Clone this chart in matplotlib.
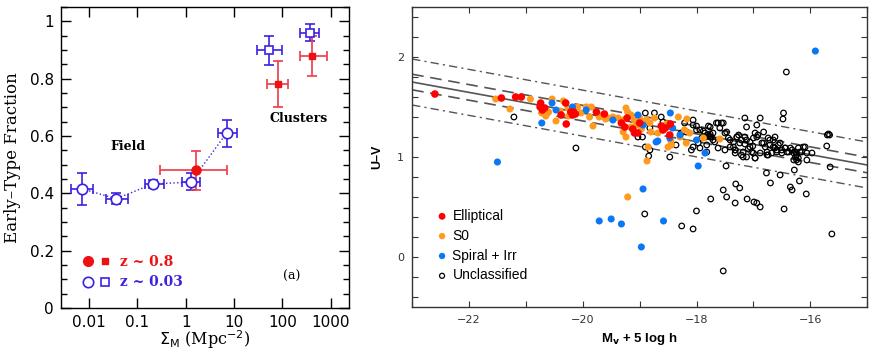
import matplotlib
matplotlib.use("Agg")
import matplotlib.pyplot as plt
from matplotlib.ticker import MultipleLocator, FixedLocator, NullFormatter
from matplotlib.legend_handler import HandlerTuple
from matplotlib.lines import Line2D

# ---- panel (a): early-type fraction vs surface density ----
field_x = [0.0071, 0.036, 0.21, 1.27, 7.0]
field_y = [0.416, 0.381, 0.433, 0.439, 0.61]
field_xlo = [0.0042, 0.022, 0.145, 0.83, 4.7]
field_xhi = [0.0117, 0.063, 0.35, 2.0, 11.5]
field_ylo = [0.36, 0.362, 0.418, 0.412, 0.561]
field_yhi = [0.47, 0.40, 0.447, 0.47, 0.656]

clus_x = [54, 380]
clus_y = [0.90, 0.96]
clus_xlo = [29.5, 237]
clus_xhi = [98, 575]
clus_ylo = [0.848, 0.93]
clus_yhi = [0.95, 0.99]

hz_field_x = [1.6]
hz_field_y = [0.48]
hz_field_xlo = [0.29]
hz_field_xhi = [7.1]
hz_field_ylo = [0.41]
hz_field_yhi = [0.549]

hz_clus_x = [80, 420]
hz_clus_y = [0.78, 0.88]
hz_clus_xlo = [48, 237]
hz_clus_xhi = [129, 830]
hz_clus_ylo = [0.70, 0.81]
hz_clus_yhi = [0.86, 0.95]

# ---- panel (b): colour-magnitude diagram ----
ell_x = [-22.6, -21.43, -21.18, -21.08, -20.74, -20.75, -20.71, -20.67, -20.3, -20.29,
         -20.38, -20.21, -20.18, -20.13, -19.76, -19.62, -19.32, -19.26, -19.22, -19.12,
         -19.03, -19.0, -18.62, -18.59, -18.55, -18.47, -18.46, -19.09, -20.16]
ell_y = [1.63, 1.59, 1.60, 1.60, 1.54, 1.50, 1.47, 1.49, 1.54, 1.33,
         1.42, 1.45, 1.42, 1.43, 1.45, 1.43, 1.34, 1.30, 1.39, 1.28,
         1.24, 1.34, 1.31, 1.27, 1.29, 1.22, 1.33, 1.24, 1.45]

s0_x = [-21.53, -21.28, -20.92, -20.72, -20.54, -20.47, -20.34, -20.26, -20.25, -20.09,
        -20.03, -19.94, -19.85, -19.88, -19.82, -19.71, -19.65, -19.56, -19.47, -19.38,
        -19.29, -19.24, -19.21, -19.29, -19.24, -19.15, -19.09, -19.06, -19.0, -18.94,
        -18.88, -18.82, -18.74, -18.85, -18.87, -18.68, -18.53, -18.5, -18.44, -18.32,
        -18.29, -18.21, -18.17, -18.12, -18.18, -17.88, -17.59, -19.21, -20.6, -19.6,
        -19.15, -18.97, -18.8, -18.45, -20.4, -20.65]
s0_y = [1.58, 1.48, 1.58, 1.44, 1.58, 1.36, 1.56, 1.49, 1.41, 1.50,
        1.44, 1.50, 1.50, 1.40, 1.31, 1.40, 1.42, 1.39, 1.40, 1.39,
        1.37, 1.49, 1.45, 1.25, 1.20, 1.42, 1.37, 1.32, 1.39, 1.35,
        1.37, 1.34, 1.39, 1.10, 0.96, 1.24, 1.33, 1.10, 1.12, 1.40,
        1.20, 1.27, 1.38, 1.24, 1.14, 1.19, 1.18, 0.60, 1.45, 1.38,
        1.30, 1.28, 1.25, 1.16, 1.46, 1.41]

sp_x = [-20.72, -21.5, -20.54, -20.47, -20.18, -19.94, -19.47, -19.03, -18.94, -18.71,
        -18.46, -18.42, -18.29, -18.0, -17.85, -17.97, -18.94, -19.71, -19.5, -19.32,
        -18.58, -18.97, -15.91, -18.68, -18.47]
sp_y = [1.34, 0.95, 1.54, 1.47, 1.50, 1.47, 1.37, 1.42, 1.32, 1.15,
        1.44, 1.29, 1.22, 1.17, 1.04, 0.91, 0.68, 0.36, 0.38, 0.33,
        0.36, 0.10, 2.06, 1.16, 1.19]

unc_x = [-21.21, -20.12, -18.9, -18.95, -18.84, -18.9, -18.82, -18.74, -18.62, -18.47,
         -18.36, -18.27, -18.06, -18.0, -18.06, -17.94, -17.82, -17.88, -17.76, -17.76,
         -17.71, -17.68, -17.62, -17.53, -17.47, -17.5, -17.48, -17.41, -17.35, -17.32,
         -17.29, -17.24, -17.18, -17.15, -17.12, -17.12, -17.06, -17.18, -17.0, -16.97,
         -16.94, -16.94, -16.88, -16.82, -16.82, -16.76, -16.74, -16.71, -16.65, -16.62,
         -16.59, -16.53, -16.5, -16.47, -16.48, -16.44, -16.41, -16.35, -16.29, -16.26,
         -16.24, -16.18, -16.12, -16.21, -15.97, -16.06, -15.71, -15.65, -15.70, -15.68,
         -15.66, -16.28, -16.19, -16.07, -16.35, -16.32, -16.46, -16.53, -16.7, -16.77,
         -16.42, -15.62, -17.53, -17.53, -17.47, -17.32, -17.31, -17.24, -17.11, -16.99,
         -16.94, -16.88, -17.75, -18.0, -18.06, -18.26, -18.91,
         -17.26, -17.21, -17.15, -17.06, -17.0, -16.97, -16.92, -16.85, -16.79, -16.74,
         -16.71, -16.65, -16.62, -16.56, -16.5, -16.44, -16.38, -16.32, -16.26, -16.24,
         -16.21, -16.15, -16.09, -16.06, -16.29, -16.21, -17.32, -17.21, -17.12, -17.03,
         -16.97, -16.88, -16.76, -16.68, -16.59, -17.15, -17.09, -17.01,
         -18.59, -19.03, -18.82, -18.21, -18.18, -18.06, -18.0, -17.94, -17.91, -17.85,
         -17.79, -17.74, -17.71, -17.65, -17.59, -17.56, -17.5, -17.44, -17.41, -17.35,
         -17.29, -17.32, -17.82, -17.62, -17.97, -18.09, -17.80, -17.78, -17.84, -17.76]
unc_y = [1.40, 1.09, 1.44, 1.20, 1.01, 1.10, 1.29, 1.44, 1.40, 1.00,
         1.12, 1.24, 1.32, 1.27, 1.10, 1.09, 1.12, 1.26, 1.30, 1.20,
         1.24, 1.15, 1.34, 1.34, 1.25, 1.07, 0.91, 1.17, 1.10, 1.04,
         1.20, 1.14, 1.05, 1.39, 1.30, 1.17, 1.10, 1.00, 1.04, 0.99,
         1.20, 1.32, 1.39, 1.25, 1.14, 1.05, 1.02, 1.17, 1.10, 1.20,
         1.07, 1.14, 1.04, 1.44, 1.38, 1.09, 1.05, 1.09, 1.04, 1.00,
         0.97, 1.05, 1.10, 1.09, 1.04, 0.97, 1.11, 0.90, 1.22, 1.23,
         1.22, 0.87, 0.76, 0.63, 0.70, 0.67, 0.48, 0.82, 0.74, 0.84,
         1.85, 0.23, -0.14, 0.67, 0.60, 0.54, 0.73, 0.69, 0.58, 0.55,
         0.54, 0.50, 0.58, 0.46, 0.28, 0.31, 0.43,
         1.22, 1.17, 1.20, 1.15, 1.19, 1.24, 1.22, 1.14, 1.10, 1.19,
         1.12, 1.17, 1.09, 1.12, 1.07, 1.09, 1.05, 1.07, 1.05, 1.02,
         0.99, 1.05, 1.10, 1.04, 0.97, 0.95, 1.07, 1.02, 1.00, 1.05,
         0.99, 1.04, 1.02, 1.04, 1.05, 1.13, 1.08, 1.11,
         1.35, 1.20, 1.07, 1.34, 1.25, 1.37, 1.31, 1.27, 1.19, 1.24,
         1.31, 1.20, 1.17, 1.34, 1.29, 1.34, 1.24, 1.19, 1.10, 1.15,
         1.20, 1.07, 1.05, 1.09, 1.14, 1.07, 1.22, 1.21, 1.20, 1.23]

# colour-magnitude relation and its scatter envelopes
cmr_x = [-23, -15]
cmr_y = [1.75, 0.92]
cmr_dash = 0.078
cmr_dashdot = 0.23

RED = '#ee1111'
RED_ERR = '#ee3a4a'
BLUE = '#3a22e0'
serif = 'DejaVu Serif'

fig = plt.figure(figsize=(8.75, 3.52), dpi=100)
ax1 = fig.add_axes([0.0697, 0.125, 0.329, 0.855])
ax2 = fig.add_axes([0.471, 0.128, 0.52, 0.852])


def asym(c, lo, hi):
    return [[a - b for a, b in zip(c, lo)], [b - a for a, b in zip(c, hi)]]


# panel (a)
ax1.plot(field_x, field_y, ':', color=BLUE, lw=1.0, zorder=2)
eb = dict(capsize=3.5, elinewidth=1.2, capthick=1.2, ls='none', zorder=3)
ax1.errorbar(field_x, field_y, xerr=asym(field_x, field_xlo, field_xhi),
             yerr=asym(field_y, field_ylo, field_yhi), fmt='o', ms=7.5,
             mfc='white', mec=BLUE, mew=1.2, ecolor=BLUE, **eb)
ax1.errorbar(clus_x, clus_y, xerr=asym(clus_x, clus_xlo, clus_xhi),
             yerr=asym(clus_y, clus_ylo, clus_yhi), fmt='s', ms=5.5,
             mfc='white', mec=BLUE, mew=1.2, ecolor=BLUE, **eb)
ax1.errorbar(hz_field_x, hz_field_y, xerr=asym(hz_field_x, hz_field_xlo, hz_field_xhi),
             yerr=asym(hz_field_y, hz_field_ylo, hz_field_yhi), fmt='o', ms=6.5,
             mfc=RED, mec=RED, ecolor=RED_ERR, **eb)
ax1.errorbar(hz_clus_x, hz_clus_y, xerr=asym(hz_clus_x, hz_clus_xlo, hz_clus_xhi),
             yerr=asym(hz_clus_y, hz_clus_ylo, hz_clus_yhi), fmt='s', ms=5,
             mfc=RED, mec=RED, ecolor=RED_ERR, **eb)

ax1.set_xscale('log')
ax1.set_xlim(0.0026, 2400)
ax1.set_ylim(0, 1.05)
ax1.xaxis.set_major_locator(FixedLocator([0.01, 0.1, 1, 10, 100, 1000]))
ax1.set_xticklabels(['0.01', '0.1', '1', '10', '100', '1000'])
ax1.xaxis.set_minor_locator(FixedLocator([]))
ax1.xaxis.set_minor_formatter(NullFormatter())
ax1.set_yticks([0, 0.2, 0.4, 0.6, 0.8, 1.0])
ax1.set_yticklabels(['0', '0.2', '0.4', '0.6', '0.8', '1'])
ax1.yaxis.set_minor_locator(MultipleLocator(0.05))
ax1.tick_params(which='both', direction='in', top=True, right=True, width=1)
ax1.tick_params(which='major', length=7, labelsize=11, pad=5)
ax1.tick_params(which='minor', length=4)
for sp in ax1.spines.values():
    sp.set_linewidth(1.0)
ax1.set_ylabel('Early\u2013Type Fraction', family=serif, fontsize=12, labelpad=6)
ax1.set_xlabel(r'$\Sigma_{\rm M}$ (Mpc$^{-2}$)', family=serif, fontsize=11.5,
               labelpad=-1)

ax1.text(0.065, 0.565, 'Field', family=serif, fontsize=9, ha='center', va='center',
         fontweight='bold')
ax1.text(215, 0.66, 'Clusters', family=serif, fontsize=9, ha='center', va='center',
         fontweight='bold')
ax1.text(160, 0.11, '(a)', family=serif, fontsize=9, ha='center', va='center')

h_r = (Line2D([], [], ls='none', marker='o', ms=7, color=RED),
       Line2D([], [], ls='none', marker='s', ms=5, color=RED))
h_b = (Line2D([], [], ls='none', marker='o', ms=7.5, mfc='white', mec=BLUE, mew=1.2),
       Line2D([], [], ls='none', marker='s', ms=5.5, mfc='white', mec=BLUE, mew=1.2))
ax1.legend([h_r, h_b], ['z ~ 0.8', 'z ~ 0.03'],
           handler_map={tuple: HandlerTuple(ndivide=None, pad=0.3)},
           loc='lower left', bbox_to_anchor=(0.03, 0.02), frameon=False,
           labelcolor=[RED, BLUE], handlelength=2.1, handletextpad=0.6,
           labelspacing=0.5, prop={'family': serif, 'size': 10, 'weight': 'bold'})

# panel (b)
GRAY = '#555555'
ax2.plot(cmr_x, cmr_y, '-', color=GRAY, lw=1.2, zorder=1)
for s in (1, -1):
    ax2.plot(cmr_x, [v + s * cmr_dash for v in cmr_y], '--', color=GRAY, lw=1.2,
             dashes=(7, 4), zorder=1)
    ax2.plot(cmr_x, [v + s * cmr_dashdot for v in cmr_y], color=GRAY, lw=1.0,
             dashes=(6, 3, 1.5, 3), zorder=1)

ax2.scatter(unc_x, unc_y, s=16, facecolors='none', edgecolors='black', linewidths=0.9,
            zorder=2, label='Unclassified')
ax2.scatter(s0_x, s0_y, s=26, color='#ff9a1f', edgecolors='none', zorder=3, label='S0')
ax2.scatter(sp_x, sp_y, s=26, color='#0a78f5', edgecolors='none', zorder=4,
            label='Spiral + Irr')
ax2.scatter(ell_x, ell_y, s=30, color='#ff0000', edgecolors='none', zorder=5,
            label='Elliptical')

ax2.set_xlim(-23, -15)
ax2.set_ylim(-0.5, 2.5)
ax2.xaxis.set_minor_locator(MultipleLocator(1))
ax2.yaxis.set_minor_locator(MultipleLocator(0.2))
ax2.set_xticks([-22, -20, -18, -16])
ax2.set_xticklabels(['\u221222', '\u221220', '\u221218', '\u221216'])
ax2.set_yticks([0, 1, 2])
ax2.set_yticklabels(['0', '1', '2'])
ax2.tick_params(which='both', direction='in', top=True, right=True, length=4,
                width=0.8, labelsize=8, colors='#333333')
ax2.tick_params(which='major', pad=6)
for sp in ax2.spines.values():
    sp.set_linewidth(1.0)
    sp.set_color('#333333')
ax2.set_ylabel('U\u2013V', fontsize=9, fontweight='bold', family='Liberation Sans',
               labelpad=10)
ax2.set_xlabel(r'M$_{\mathbf{v}}$ + 5 log h', fontsize=9.5, fontweight='bold',
               family='Liberation Sans', labelpad=4)

hs, ls = ax2.get_legend_handles_labels()
order = [3, 1, 2, 0]
ax2.legend([hs[i] for i in order], [ls[i] for i in order], loc='lower left',
           bbox_to_anchor=(0.02, 0.04), frameon=False, handletextpad=0.15,
           labelspacing=0.42, prop={'family': 'Liberation Sans', 'size': 10},
           markerscale=0.9, handlelength=1.2)

fig.savefig('out.png', dpi=100)
